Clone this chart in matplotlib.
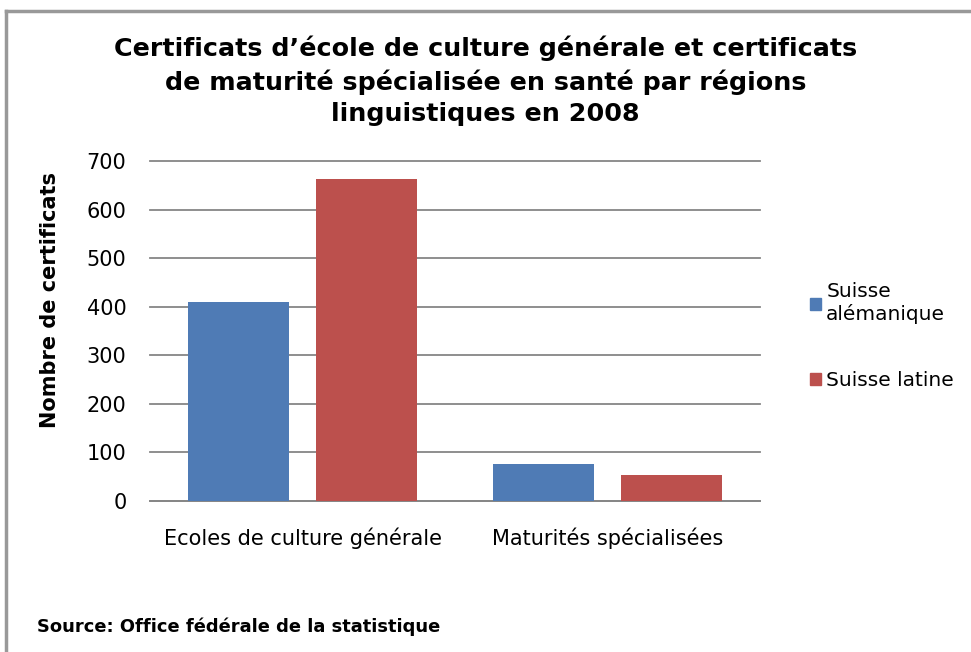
import numpy as np
import matplotlib
matplotlib.use('Agg')
import matplotlib.pyplot as plt
from matplotlib.lines import Line2D

categories = ['Ecoles de culture générale', 'Maturités spécialisées']
series_names = ['Suisse\nalémanique', 'Suisse latine']
alemanique = [410, 77]
latine = [663, 54]
colors = ['#4f7bb5', '#bc504d']

plt.rcParams['font.family'] = ['DejaVu Sans']

fig = plt.figure(figsize=(9.71, 6.52), dpi=100)
ax = fig.add_axes([150/971, 1 - 501/652, 610/971, 340/652])

x = np.arange(len(categories))
w = 0.334
ax.bar(x - 0.21, alemanique, w, color=colors[0], label=series_names[0], zorder=3)
ax.bar(x + 0.21, latine, w, color=colors[1], label=series_names[1], zorder=3)

ax.set_xlim(-0.5, 1.5)
ax.set_ylim(0, 700)
ax.set_yticks(range(0, 701, 100))
ax.yaxis.grid(True, color='#868686', linewidth=1.3, zorder=0, clip_on=False)
for s in ['top', 'right', 'left']:
    ax.spines[s].set_visible(False)
ax.spines['bottom'].set_color('#868686')
ax.spines['bottom'].set_linewidth(1.3)
ax.tick_params(axis='y', length=0, pad=17, labelsize=15)
ax.tick_params(axis='x', length=0, pad=19, labelsize=15)
ax.set_xticks(x)
ax.set_xticklabels(categories)
ax.set_ylabel('Nombre de certificats', fontsize=15, fontweight='bold')
ax.yaxis.set_label_coords((60 - 150) / 610, (501 - 300) / 340)

fig.text(0.5, 1 - 81/652, "Certificats d’école de culture générale et certificats\n"
         "de maturité spécialisée en santé par régions\nlinguistiques en 2008",
         ha='center', va='center', fontsize=18.3, fontweight='bold', linespacing=1.4)

handles = [plt.Rectangle((0, 0), 1, 1, color=c) for c in colors]
fig.legend(handles, series_names, loc='center left', bbox_to_anchor=(792/971, 1 - 336/652),
           frameon=False, fontsize=14.5, handlelength=0.55, handleheight=0.55,
           handletextpad=0.25, labelspacing=2.3)

fig.text(37/971, 1 - 627/652, 'Source: Office fédérale de la statistique',
         fontsize=12.9, fontweight='bold', va='center')

# cadre gris
fig.add_artist(Line2D([6/971, 6/971], [0, 1 - 11/652], color='#999999', lw=2.5))
fig.add_artist(Line2D([6/971, 1], [1 - 11/652, 1 - 11/652], color='#999999', lw=2.5))

fig.savefig('out.png', dpi=100)
